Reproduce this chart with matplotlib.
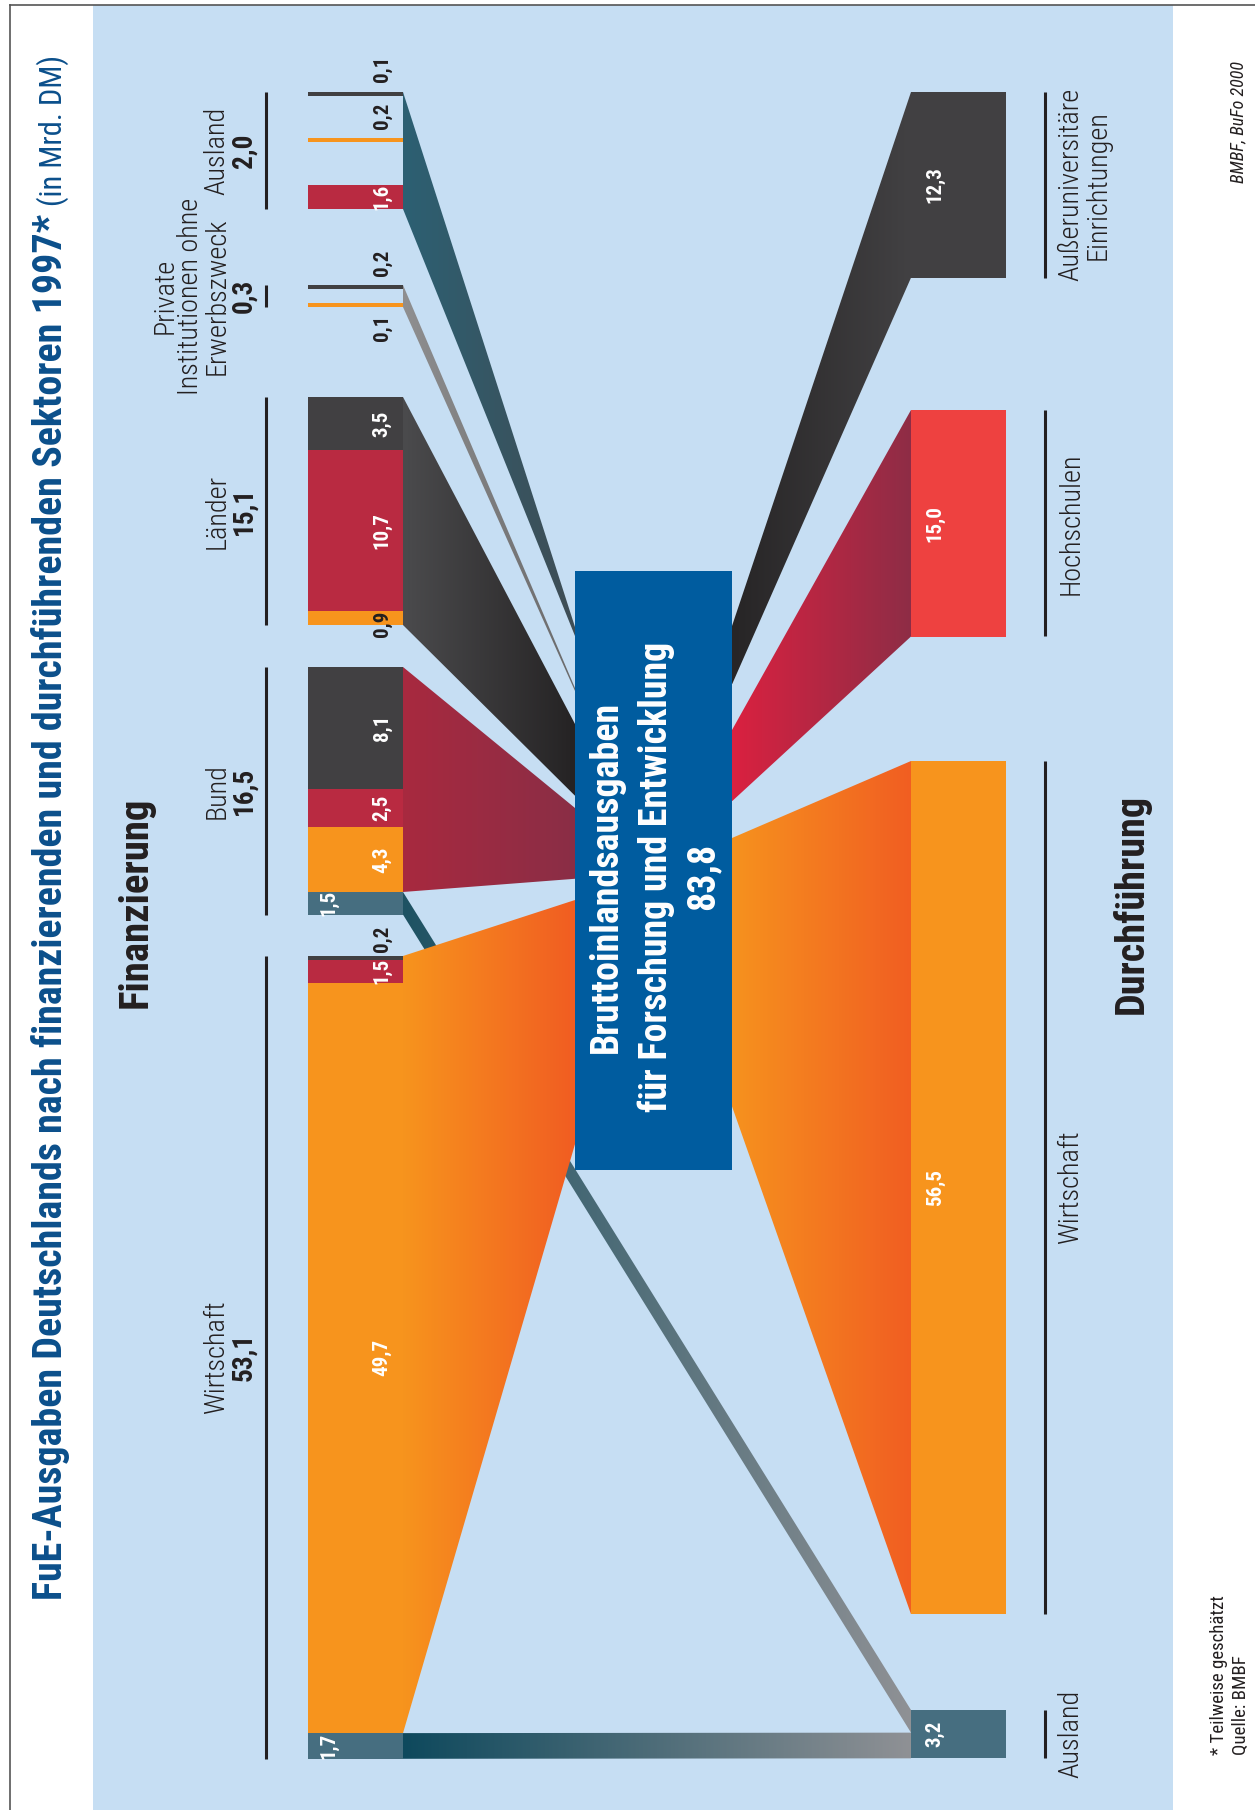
import numpy as np
import matplotlib
matplotlib.use('Agg')
import matplotlib.pyplot as plt
from matplotlib.patches import Polygon, Rectangle
from matplotlib.colors import to_rgb
import matplotlib.font_manager as fm

# ---------------------------------------------------------------- data
title = 'FuE-Ausgaben Deutschlands nach finanzierenden und durchführenden Sektoren 1997*'
subtitle = '(in Mrd. DM)'
sources = ['Ausland', 'Private\nInstitutionen ohne\nErwerbszweck', 'Länder', 'Bund', 'Wirtschaft']
source_totals = [2.0, 0.3, 15.1, 16.5, 53.1]
performers = ['Außeruniversitäre\nEinrichtungen', 'Hochschulen', 'Wirtschaft', 'Ausland']
performer_codes = ['AU', 'HS', 'WI', 'AL']
performer_totals = [12.3, 15.0, 56.5, 3.2]
gross_total = 83.8
box_lines = ['Bruttoinlandsausgaben', 'für Forschung und Entwicklung', '83,8']

# split of every financing source by performing sector (segment order as drawn)
ausland_to = ['AU', 'WI', 'HS']
ausland_vals = [0.1, 0.2, 1.6]
private_to = ['AU', 'WI']
private_vals = [0.2, 0.1]
laender_to = ['AU', 'HS', 'WI']
laender_vals = [3.5, 10.7, 0.9]
bund_to = ['AU', 'HS', 'WI', 'AL']
bund_vals = [8.1, 2.5, 4.3, 1.5]
wirtschaft_to = ['AU', 'HS', 'WI', 'AL']
wirtschaft_vals = [0.2, 1.5, 49.7, 1.7]

src_to = [ausland_to, private_to, laender_to, bund_to, wirtschaft_to]
src_vals = [ausland_vals, private_vals, laender_vals, bund_vals, wirtschaft_vals]

# ---------------------------------------------------------------- layout / style
PX = 15.1          # pixels per Mrd. DM on the bars
C = 4.75           # pixels per Mrd. DM where flows meet the central box
MIN_T = 4.0        # minimum drawn thickness of a tiny segment
BAR_F = (308, 403)
BAR_D = (911, 1006)
BOX = (575, 732, 571, 1170)
src_top = [92, 285, 397, 667, 956]
src_span = [117, 22, None, None, None]
perf_top = [92, 410, 761, 1710]
arr_left = [627, 688, 724, 808, 900]
arr_right = [626, 730, 838]

BG = '#C6DEF3'
INK = '#231F20'
seg_col = {'AU': '#414042', 'HS': '#B92A41', 'WI': '#F7941D', 'AL': '#466E80'}
perf_col = ['#414042', '#EE4140', '#F7941D', '#466E80']
left_grad = [('#2C6073', '#3F4D55'), ('#8F8F90', '#6A6A6B'), ('#4B4B4D', '#252324'),
             ('#A8293F', '#8A2E46'), ('#F7941D', '#F15D22')]
right_grad = [('#272526', '#424143'), ('#DA2140', '#8E2D46'), ('#F6921E', '#F15E22')]
teal_grad = ('#1E5263', '#8F9195')
teal_grad2 = ('#0E495D', '#8F9195')
BOX_COL = '#005C9F'
TITLE_COL = '#0B4F8B'
# outside (black) value labels: offset of text centre from segment centre
out_offset = {(0, 0): -25, (0, 1): -25, (1, 0): -24, (1, 1): 23, (2, 2): 6, (4, 0): -19}

# ---------------------------------------------------------------- fonts
ttf = fm.fontManager.ttflist
names = {f.name for f in ttf}
FAM, STRETCH = 'Liberation Sans', 'normal'
for cand in ['Liberation Sans Narrow', 'Roboto Condensed', 'Open Sans Condensed',
             'Noto Sans Condensed', 'DejaVu Sans Condensed']:
    if cand in names:
        FAM = cand
        break
else:
    for fam in ['Roboto', 'Noto Sans', 'Open Sans', 'DejaVu Sans']:
        if any(f.name == fam and 'condensed' in str(f.stretch) for f in ttf):
            FAM, STRETCH = fam, 'condensed'
            break

# ---------------------------------------------------------------- figure
fig = plt.figure(figsize=(12.55, 18.10), dpi=100)
ax = fig.add_axes([0, 0, 1, 1])
ax.set_xlim(0, 1255)
ax.set_ylim(1810, 0)
ax.axis('off')
renderer = fig.canvas.get_renderer()


def txt(x, y, s, size, weight='normal', color=INK, ha='center', va='center', italic=False, z=10):
    return ax.text(x, y, s, fontsize=size, fontweight=weight,
                   fontstyle='italic' if italic else 'normal', family=FAM, fontstretch=STRETCH,
                   color=color, rotation=90, rotation_mode='anchor', ha=ha, va=va, zorder=z)


def fit_size(s, target, size0=20, weight='normal', maxsize=None, italic=False):
    t = txt(0, 0, s, size0, weight=weight, italic=italic)
    L = t.get_window_extent(renderer).height
    t.remove()
    size = size0 * target / L
    return min(size, maxsize) if maxsize else size


def grad_poly(pts, c0, c1, z):
    pts = np.asarray(pts, float)
    poly = Polygon(pts, closed=True, facecolor='none', edgecolor='none', zorder=z)
    ax.add_patch(poly)
    x0, x1 = pts[:, 0].min(), pts[:, 0].max()
    y0, y1 = pts[:, 1].min(), pts[:, 1].max()
    t = np.linspace(0, 1, 256)[:, None]
    row = np.array(to_rgb(c0))[None, :] * (1 - t) + np.array(to_rgb(c1))[None, :] * t
    img = np.repeat(row[None, :, :], 2, axis=0)
    im = ax.imshow(img, extent=(x0, x1, y1, y0), aspect='auto', interpolation='bilinear', zorder=z)
    im.set_clip_path(poly)


def fmt(v):
    return f'{v:.1f}'.replace('.', ',')


# background
ax.add_patch(Rectangle((93, 5), 1173 - 93, 1810, facecolor=BG, edgecolor='none', zorder=0))
ax.plot([10, 10], [5, 1810], color='#555555', lw=1.2, zorder=1)
ax.plot([10, 1255], [5, 5], color='#555555', lw=1.2, zorder=1)

# ---------------------------------------------------------------- geometry of segments
seg_geo = []
for i, vals in enumerate(src_vals):
    th = [max(v * PX, MIN_T) for v in vals]
    geo = []
    if src_span[i] is None:
        y = src_top[i]
        for t in th:
            geo.append((y, y + t))
            y += t
    else:
        gap = (src_span[i] - sum(th)) / (len(th) - 1)
        y = src_top[i]
        for t in th:
            geo.append((y, y + t))
            y += t + gap
    seg_geo.append(geo)

perf_geo = [(perf_top[j], perf_top[j] + performer_totals[j] * PX) for j in range(4)]

# ---------------------------------------------------------------- flows source -> box
xb0, xb1, yb0, yb1 = BOX
for i in range(5):
    geo = seg_geo[i]
    net_idx = [k for k, p in enumerate(src_to[i]) if p != 'AL']
    net = sum(src_vals[i][k] for k in net_idx)
    top = geo[0][0]
    bot = geo[net_idx[-1]][1]
    a0 = arr_left[i]
    a1 = a0 + max(net * C, 3)
    z = 3 if i == 4 else 2
    grad_poly([(BAR_F[1], top), (xb0, a0), (xb0, a1), (BAR_F[1], bot)], *left_grad[i], z)

# direct flows to foreign performers
y_al = perf_geo[3][0]
for i in range(5):
    for k, p in enumerate(src_to[i]):
        if p == 'AL':
            s0, s1 = seg_geo[i][k]
            h = src_vals[i][k] * PX
            g = teal_grad if i == 3 else teal_grad2
            grad_poly([(BAR_F[1], s0), (BAR_D[0], y_al), (BAR_D[0], y_al + h), (BAR_F[1], s1)], *g, 2.5)
            y_al += h

# ---------------------------------------------------------------- flows box -> performers
for j in range(3):
    a0 = arr_right[j]
    a1 = a0 + performer_totals[j] * C
    p0, p1 = perf_geo[j]
    grad_poly([(xb1, a0), (BAR_D[0], p0), (BAR_D[0], p1), (xb1, a1)], *right_grad[j], 3)

# central box
ax.add_patch(Rectangle((xb0, yb0), xb1 - xb0, yb1 - yb0, facecolor=BOX_COL, edgecolor='none', zorder=4))

# ---------------------------------------------------------------- bars
for i in range(5):
    for k, p in enumerate(src_to[i]):
        y0, y1 = seg_geo[i][k]
        ax.bar((BAR_F[0] + BAR_F[1]) / 2, y1 - y0, bottom=y0, width=BAR_F[1] - BAR_F[0],
               color=seg_col[p], edgecolor='none', zorder=5)
for j in range(4):
    y0, y1 = perf_geo[j]
    ax.bar((BAR_D[0] + BAR_D[1]) / 2, y1 - y0, bottom=y0, width=BAR_D[1] - BAR_D[0],
           color=perf_col[j], edgecolor='none', zorder=5)

# brackets
for i in range(5):
    ax.plot([266, 266], [seg_geo[i][0][0], seg_geo[i][-1][1]], color=INK, lw=2.2, zorder=5,
            solid_capstyle='butt')
for j in range(4):
    ax.plot([1045, 1045], list(perf_geo[j]), color=INK, lw=2.2, zorder=5, solid_capstyle='butt')

# ---------------------------------------------------------------- text
s_name = fit_size('Erwerbszweck', 157, weight='light', maxsize=21)
s_tot = fit_size('53,1', 48, weight='bold', maxsize=20)
s_seg = fit_size('10,7', 37, weight='bold', maxsize=15.5)

# title + subtitle
s_title = fit_size(title, 1386, weight='bold', maxsize=30)
t_title = txt(62, 1600, title, s_title, weight='bold', color=TITLE_COL, ha='left', va='baseline')
fig.canvas.draw()
bb = t_title.get_window_extent(renderer)
y_end = 1810 - bb.y1  # display -> data (pixel) y
s_sub = fit_size(subtitle, 160, maxsize=22)
txt(62, y_end - 8, subtitle, s_sub, color=TITLE_COL, ha='left', va='baseline')

# section headings
txt(136, 902, 'Finanzierung', fit_size('Finanzierung', 212, weight='bold', maxsize=30), weight='bold')
txt(1131, 904, 'Durchführung', fit_size('Durchführung', 220, weight='bold', maxsize=30), weight='bold')

# source labels
for i in range(5):
    yc = (seg_geo[i][0][0] + seg_geo[i][-1][1]) / 2
    lines = sources[i].split('\n')
    n = len(lines)
    for k, ln in enumerate(lines):
        txt(217 - 26 * (n - 1 - k), yc, ln, s_name, weight='light')
    txt(244, yc, fmt(source_totals[i]), s_tot, weight='bold')

# performer labels
for j in range(4):
    yc = sum(perf_geo[j]) / 2
    for k, ln in enumerate(performers[j].split('\n')):
        txt(1071 + 27 * k, yc, ln, s_name, weight='light')
    txt(935, yc, fmt(performer_totals[j]), s_seg, weight='bold', color='white')

# segment value labels
for i in range(5):
    for k, p in enumerate(src_to[i]):
        y0, y1 = seg_geo[i][k]
        yc = (y0 + y1) / 2
        x = 329 if p == 'AL' else 382
        if (i, k) in out_offset:
            txt(x, yc + out_offset[(i, k)], fmt(src_vals[i][k]), s_seg, weight='bold', color=INK)
        else:
            txt(x, yc, fmt(src_vals[i][k]), s_seg, weight='bold', color='white')

# box text
s_box = fit_size(box_lines[1], 471, weight='bold', maxsize=30)
ybc = (yb0 + yb1) / 2 + 6
for xl, ln in zip([617, 667, 713], box_lines):
    txt(xl, ybc, ln, s_box, weight='bold', color='white', va='baseline')

# source note, credits
s_note = fit_size('* Teilweise geschätzt', 160, maxsize=14)
txt(1224, 1755, '* Teilweise geschätzt', s_note, ha='left', va='baseline')
txt(1246, 1755, 'Quelle: BMBF', s_note, ha='left', va='baseline')
txt(1238, 122, 'BMBF, BuFo 2000', fit_size('BMBF, BuFo 2000', 128, italic=True, maxsize=13), italic=True)

ax.set_xlim(0, 1255)
ax.set_ylim(1810, 0)
fig.savefig('out.png', dpi=100)
